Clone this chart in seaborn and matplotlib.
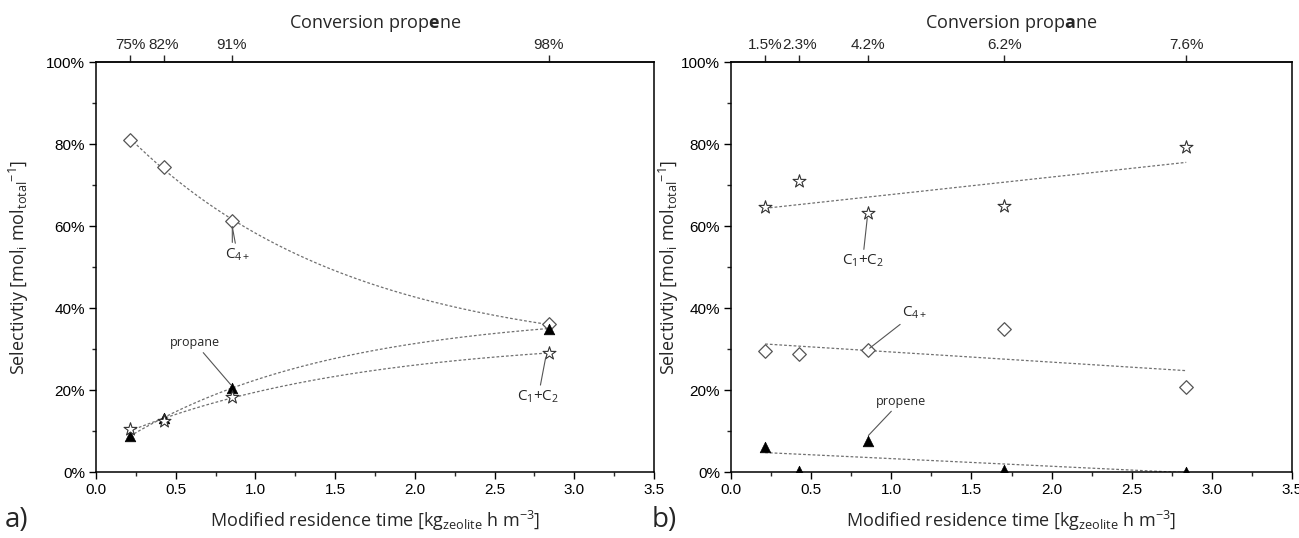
import numpy as np
import pandas as pd
import matplotlib
matplotlib.use("Agg")
import matplotlib.pyplot as plt
from matplotlib.ticker import MultipleLocator
import seaborn as sns

# ---------------- data ----------------
tau_a = [0.213, 0.426, 0.852, 2.84]
conv_a = ["75%", "82%", "91%", "98%"]
c4_a = [81.0, 74.5, 61.3, 36.0]
propane_a = [8.8, 13.2, 20.5, 35.0]
c1c2_a = [10.4, 12.4, 18.4, 29.0]

tau_b = [0.213, 0.426, 0.852, 1.704, 2.84]
conv_b = ["1.5%", "2.3%", "4.2%", "6.2%", "7.6%"]
c1c2_b = [64.6, 70.9, 63.1, 64.9, 79.3]
c4_b = [29.6, 28.9, 29.8, 34.8, 20.7]
propene_b = [6.0, 0.3, 7.6, 0.5, 0.0]

ytick_vals = [0, 20, 40, 60, 80, 100]
ytick_labels = ["0%", "20%", "40%", "60%", "80%", "100%"]

# ---------------- style ----------------
sns.set_theme(style="ticks")
plt.rcParams["font.family"] = ["Liberation Sans", "DejaVu Sans"]
plt.rcParams["mathtext.fontset"] = "custom"
plt.rcParams["mathtext.rm"] = "Open Sans"
plt.rcParams["mathtext.it"] = "Open Sans:italic"
plt.rcParams["mathtext.bf"] = "Open Sans:bold"
LBL = ["Open Sans", "DejaVu Sans"]

fig = plt.figure(figsize=(12.99, 5.38), dpi=100)
ax_a = fig.add_axes([96 / 1299, 1 - 472 / 538, 558 / 1299, 410 / 538])
ax_b = fig.add_axes([731 / 1299, 1 - 472 / 538, 561 / 1299, 410 / 538])

line_kw = dict(color="#707070", lw=0.9, ls=(0, (2.2, 1.6)), zorder=2)
st_diamond = dict(marker="D", s=48, color="white", edgecolor="#555555", linewidth=0.9)
st_star = dict(marker="*", s=95, color="white", edgecolor="#333333", linewidth=0.8)
st_tri = dict(marker="^", s=58, color="black", edgecolor="black", linewidth=0.5)


def exp_fit(x, y):
    """Least-squares fit y = A + B*exp(-x/t) (grid over t) -> smooth curve."""
    x = np.asarray(x, float)
    y = np.asarray(y, float)
    best = None
    for t in np.linspace(0.2, 8.0, 800):
        M = np.column_stack([np.ones_like(x), np.exp(-x / t)])
        coef, *_ = np.linalg.lstsq(M, y, rcond=None)
        r = np.sum((M @ coef - y) ** 2)
        if best is None or r < best[0]:
            best = (r, t, coef)
    _, t, coef = best
    xs = np.linspace(x.min(), x.max(), 200)
    return xs, coef[0] + coef[1] * np.exp(-xs / t)


def draw_panel(ax, x, series, kind, conv, conv_title):
    for y, st in series:
        if kind == "exp":
            xs, ys = exp_fit(x, y)
            sns.lineplot(x=xs, y=ys, ax=ax, **line_kw)
        else:
            sns.regplot(x=x, y=y, ax=ax, order=1, ci=None, scatter=False,
                        truncate=True, line_kws=line_kw)
        sns.scatterplot(x=x, y=y, ax=ax, zorder=3, legend=False, **st)
    ax.set_xlim(0, 3.5)
    ax.set_ylim(0, 100)
    ax.xaxis.set_major_locator(MultipleLocator(0.5))
    ax.xaxis.set_minor_locator(MultipleLocator(0.25))
    ax.xaxis.set_major_formatter(matplotlib.ticker.FormatStrFormatter("%.1f"))
    ax.set_yticks(ytick_vals, labels=ytick_labels)
    ax.yaxis.set_minor_locator(MultipleLocator(10))
    ax.tick_params(which="major", direction="out", length=5, width=1.0,
                   labelsize=11, colors="black", pad=3)
    ax.tick_params(which="minor", direction="out", length=3, width=1.0)
    ax.tick_params(top=False, right=False, which="both")
    for sp in ax.spines.values():
        sp.set_visible(True)
        sp.set_linewidth(1.1)
        sp.set_color("black")
    ax.set_xlabel(r"Modified residence time [kg$_{\mathregular{zeolite}}$ h m$^{\mathregular{-3}}$]",
                  fontsize=13, family=LBL)
    ax.xaxis.set_label_coords(0.5, -0.09)
    ax.set_ylabel(r"Selectivtiy [mol$_{\mathregular{i}}$ mol$_{\mathregular{total}}$$^{\mathregular{-1}}$]",
                  fontsize=13, family=LBL)
    sec = ax.secondary_xaxis("top")
    sec.set_xticks(x, labels=conv)
    sec.tick_params(direction="out", length=5, width=1.0, labelsize=11, pad=2)
    sec.xaxis.set_minor_locator(matplotlib.ticker.NullLocator())
    sec.spines["top"].set_linewidth(1.1)
    ax.text(0.5, 1.095, conv_title, transform=ax.transAxes, ha="center",
            va="center", fontsize=13, family=LBL)


draw_panel(ax_a, tau_a, [(c4_a, st_diamond), (propane_a, st_tri), (c1c2_a, st_star)],
           "exp", conv_a, r"Conversion prop$\mathbf{e}$ne")
draw_panel(ax_b, tau_b, [(c1c2_b, st_star), (c4_b, st_diamond), (propene_b, st_tri)],
           "lin", conv_b, r"Conversion prop$\mathbf{a}$ne")

ax_a.yaxis.set_label_coords(-0.116, 0.5)
ax_b.yaxis.set_label_coords(-0.089, 0.5)

ann = dict(arrowprops=dict(arrowstyle="-", color="#555555", lw=0.8,
                           shrinkA=0, shrinkB=0), family=LBL, ha="center", va="center")

# panel a annotations
ax_a.annotate(r"C$_{\mathregular{4+}}$", xy=(0.855, 59.8), xytext=(0.887, 53.0),
              fontsize=11, **ann)
ax_a.annotate("", xy=(0.855, 59.8), xytext=(0.855, 56.0),
              arrowprops=dict(arrowstyle="-", color="#555555", lw=0.8, shrinkA=0, shrinkB=0))
ax_a.annotate("propane", xy=(0.845, 21.3), xytext=(0.62, 31.5), fontsize=9, **ann)
ax_a.annotate(r"C$_{\mathregular{1}}$+C$_{\mathregular{2}}$", xy=(2.82, 27.8),
              xytext=(2.774, 18.4), fontsize=11, **ann)

# panel b annotations
ax_b.annotate(r"C$_{\mathregular{1}}$+C$_{\mathregular{2}}$", xy=(0.85, 61.9),
              xytext=(0.821, 51.5), fontsize=11, **ann)
ax_b.annotate(r"C$_{\mathregular{4+}}$", xy=(0.865, 30.2), xytext=(1.147, 38.8),
              fontsize=11, **ann)
ax_b.annotate("propene", xy=(0.857, 8.9), xytext=(1.058, 17.2), fontsize=9, **ann)

fig.text(5 / 1299, 1 - 520 / 538, "a)", fontsize=20, family=LBL, va="center", ha="left")
fig.text(652 / 1299, 1 - 520 / 538, "b)", fontsize=20, family=LBL, va="center", ha="left")

fig.savefig("out.png", dpi=100, facecolor="white")
